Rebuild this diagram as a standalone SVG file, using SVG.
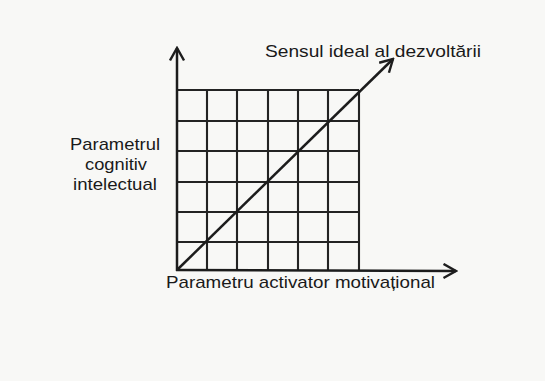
<svg xmlns="http://www.w3.org/2000/svg" width="545" height="381" viewBox="0 0 545 381">
<defs>
<marker id="chev" viewBox="0 0 16 16" refX="14" refY="8" markerWidth="16" markerHeight="16" markerUnits="userSpaceOnUse" orient="auto">
<path d="M1.5,1 L14,8 L1.5,15" fill="none" stroke="#1e1e1e" stroke-width="2.4" stroke-linejoin="miter"/>
</marker>
</defs>
<style>
.g{stroke:#232323;stroke-width:2.1;fill:none}
.ax{stroke:#1c1c1c;stroke-width:2.5;fill:none}
.t{font-family:"Liberation Sans",Arial,sans-serif;font-size:17px;fill:#1a1a1a}
</style>
<rect width="545" height="381" fill="#f8f8f6"/>
<g id="grid">
<path class="g" d="M177,90H359 M177,121H359 M177,151H359 M177,182H359 M177,212H359 M177,242H359 M207,90V270 M237,90V270 M268,90V270 M298,90V270 M328,90V270 M359,90V270"/>
</g>
<g id="connectors">
<line class="ax" x1="177" y1="271" x2="177" y2="48" marker-end="url(#chev)"/>
<line class="ax" x1="176" y1="270" x2="456" y2="271" marker-end="url(#chev)"/>
<line class="ax" x1="177" y1="270" x2="393" y2="59" marker-end="url(#chev)"/>
</g>
<g id="label-ideal">
<text class="t" x="265" y="57" textLength="216" lengthAdjust="spacingAndGlyphs">Sensul ideal al dezvoltării</text>
</g>
<g id="label-y">
<text class="t" x="70" y="150" textLength="90" lengthAdjust="spacingAndGlyphs">Parametrul</text>
<text class="t" x="85" y="170" textLength="62" lengthAdjust="spacingAndGlyphs">cognitiv</text>
<text class="t" x="73" y="190" textLength="84" lengthAdjust="spacingAndGlyphs">intelectual</text>
</g>
<g id="label-x">
<text class="t" x="166" y="288" textLength="269" lengthAdjust="spacingAndGlyphs">Parametru activator motivațional</text>
</g>
</svg>
